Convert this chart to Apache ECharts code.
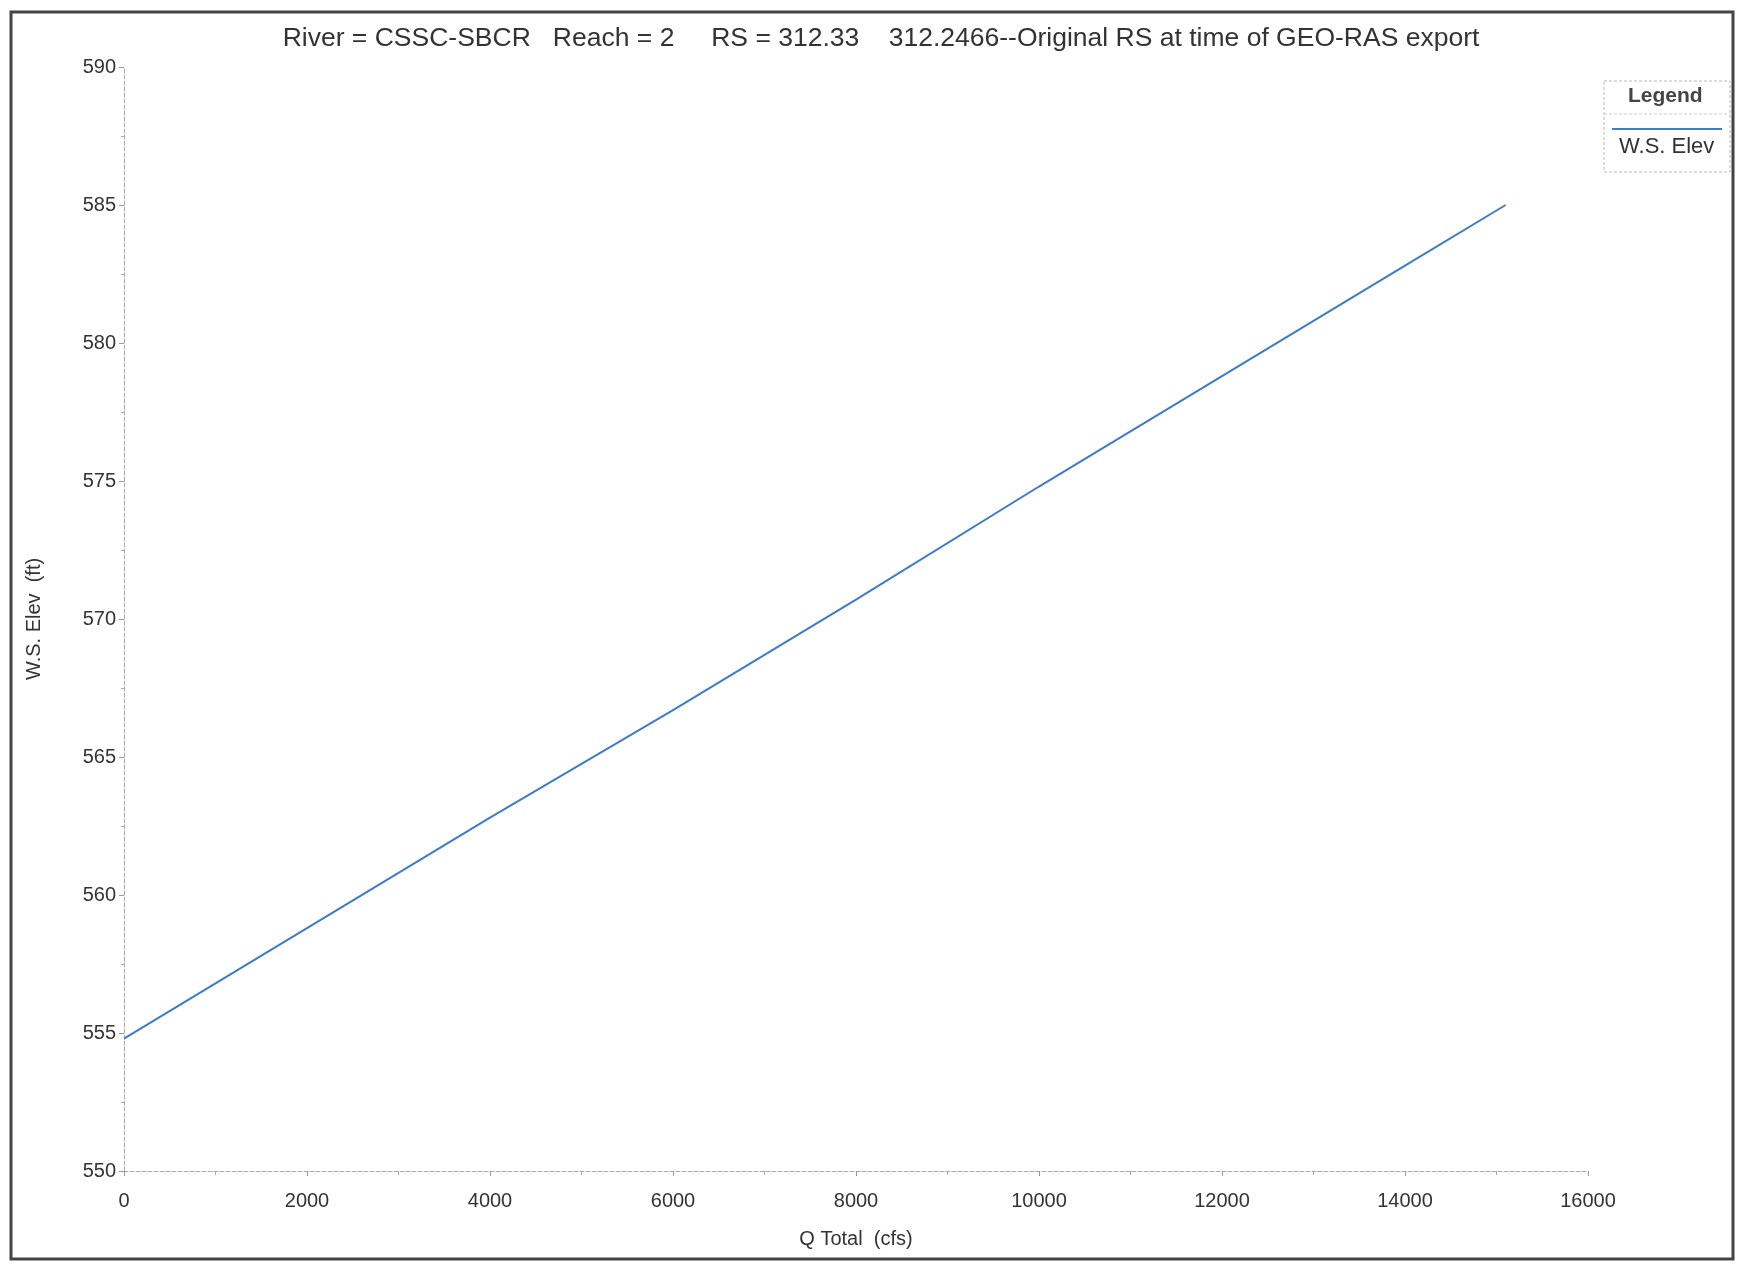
<!DOCTYPE html>
<html><head><meta charset="utf-8">
<script src="https://cdn.jsdelivr.net/npm/echarts@6/dist/echarts.min.js"></script>
<style>html,body{margin:0;padding:0;background:#fff}#c{width:1739px;height:1268px}</style>
</head><body><div id="c"></div>
<script>
const qTotal = [0, 1000, 2000, 4000, 6000, 8000, 10000, 12000, 14000, 15100];
const wsElev = [554.8, 556.8, 558.8, 562.8, 566.7, 570.7, 574.8, 578.8, 582.8, 585.0];
const seriesName = 'W.S. Elev';
const titleText = 'River = CSSC-SBCR   Reach = 2     RS = 312.33    312.2466--Original RS at time of GEO-RAS export';

const chart = echarts.init(document.getElementById('c'));
const font = 'Liberation Sans, Arial, sans-serif';
chart.setOption({
  backgroundColor: '#fff',
  animation: false,
  title: { text: titleText, left: 876, top: 20, textAlign: 'center',
    textStyle: { fontFamily: font, fontSize: 26.5, fontWeight: 'normal', color: '#333' } },
  grid: { left: 124, right: 151, top: 67, bottom: 97 },
  xAxis: { type: 'value', min: 0, max: 16000, interval: 2000,
    name: 'Q Total  (cfs)', nameLocation: 'middle', nameGap: 58,
    nameTextStyle: { fontFamily: font, fontSize: 20, color: '#333' },
    axisLine: { lineStyle: { color: '#aaa', type: 'dashed', width: 1 } },
    axisTick: { show: true, length: 5, lineStyle: { color: '#999' } },
    minorTick: { show: true, splitNumber: 2, length: 4, lineStyle: { color: '#aaa' } },
    splitLine: { show: false },
    axisLabel: { fontFamily: font, fontSize: 20, color: '#333', margin: 20,
      formatter: v => String(v) } },
  yAxis: { type: 'value', min: 550, max: 590, interval: 5,
    name: 'W.S. Elev  (ft)', nameLocation: 'middle', nameGap: 80,
    nameTextStyle: { fontFamily: font, fontSize: 20, color: '#333' },
    axisLine: { show: true, lineStyle: { color: '#aaa', type: 'dashed', width: 1 } },
    axisTick: { show: true, length: 5, lineStyle: { color: '#999' } },
    minorTick: { show: true, splitNumber: 2, length: 3, lineStyle: { color: '#aaa' } },
    splitLine: { show: false },
    axisLabel: { fontFamily: font, fontSize: 20, color: '#333', margin: 8 } },
  series: [{ name: seriesName, type: 'line', showSymbol: false,
    data: qTotal.map((q, i) => [q, wsElev[i]]),
    lineStyle: { color: '#3d7cc9', width: 2 }, itemStyle: { color: '#3d7cc9' } }],
  graphic: [
    { type: 'rect', shape: { x: 11, y: 12, width: 1722, height: 1247 },
      style: { fill: 'none', stroke: '#444', lineWidth: 3 } },
    { type: 'rect', shape: { x: 1604, y: 81, width: 126, height: 91 },
      style: { fill: '#fff', stroke: '#bbb', lineWidth: 1, lineDash: [3, 2] } },
    { type: 'line', shape: { x1: 1604, y1: 114, x2: 1730, y2: 114 },
      style: { stroke: '#ccc', lineWidth: 1, lineDash: [3, 2] } },
    { type: 'text', left: 1628, top: 86,
      style: { text: 'Legend', font: 'bold 21px ' + font, fill: '#444' } },
    { type: 'line', shape: { x1: 1612, y1: 129, x2: 1722, y2: 129 },
      style: { stroke: '#3d7cc9', lineWidth: 2 } },
    { type: 'text', left: 1619, top: 136,
      style: { text: seriesName, font: '22px ' + font, fill: '#333' } }
  ]
});
</script></body></html>
